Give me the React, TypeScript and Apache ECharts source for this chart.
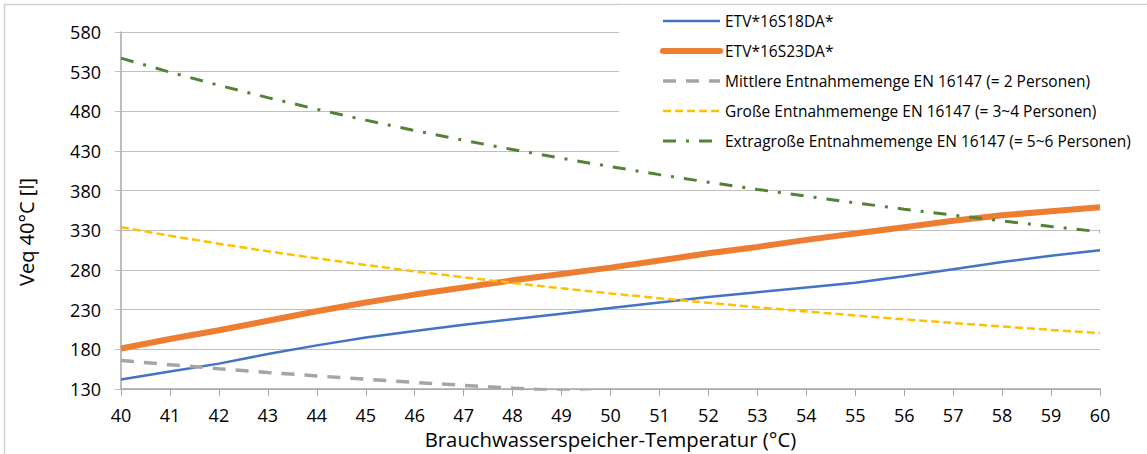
import React, { useEffect, useRef } from "react";
import * as echarts from "echarts";

const temperatures = ["40", "41", "42", "43", "44", "45", "46", "47", "48", "49", "50", "51", "52", "53", "54", "55", "56", "57", "58", "59", "60"];

const etv16S18 = [142, 152, 162, 174, 185, 195, 203, 211, 218, 225, 232, 239, 246, 252, 258, 264, 272, 281, 290, 298, 305];
const etv16S23 = [181, 193, 204, 216, 228, 239, 249, 258, 267, 275, 283, 292, 301, 309, 318, 326, 334, 342, 349, 354, 359];
const mittlere = [166, 160.6, 155.6, 150.9, 146.5, 142.3, 138.3, 134.6, 131.1, 127.7, 124.5];
const grosse = [334, 323.2, 313.1, 303.6, 294.7, 286.3, 278.3, 270.8, 263.7, 256.9, 250.5, 244.4, 238.6, 233.0, 227.7, 222.7, 217.8, 213.2, 208.8, 204.5, 200.4];
const extragrosse = [547, 529.4, 512.8, 497.3, 482.6, 468.9, 455.8, 443.5, 431.8, 420.8, 410.3, 400.2, 390.7, 381.6, 373.0, 364.7, 356.7, 349.1, 341.9, 334.9, 328.2];

const seriesNames = [
  "ETV*16S18DA*",
  "ETV*16S23DA*",
  "Mittlere Entnahmemenge EN 16147 (= 2 Personen)",
  "Große Entnahmemenge EN 16147 (= 3~4 Personen)",
  "Extragroße Entnahmemenge EN 16147 (= 5~6 Personen)",
];
const seriesColors = ["#4472C4", "#ED7D31", "#A5A5A5", "#FFC000", "#548235"];
const seriesWidths = [2.5, 6, 3.5, 2.5, 3];
const seriesDashes: any[] = ["solid", "solid", [13, 10], [8, 4], [13, 10, 3, 10]];
const seriesData = [etv16S18, etv16S23, mittlere, grosse, extragrosse];

const FONT = "'Open Sans', 'Noto Sans', sans-serif";

export default function App() {
  const ref = useRef<HTMLDivElement>(null);
  useEffect(() => {
    const chart = echarts.init(ref.current!, null, { renderer: "svg" });
    chart.setOption({
      animation: false,
      backgroundColor: "#ffffff",
      textStyle: { fontFamily: FONT },
      grid: { left: 121, right: 47, top: 32, bottom: 65 },
      graphic: [
        {
          type: "rect",
          shape: { x: 4.5, y: 4.5, width: 1200, height: 500 },
          style: { fill: "none", stroke: "#d0d0d0", lineWidth: 1.5 },
          silent: true,
          z: -10,
        },
        {
          type: "text",
          x: 26,
          y: 232,
          rotation: Math.PI / 2,
          style: {
            text: "Veq 40°C [l]",
            fontFamily: FONT,
            fontSize: 20,
            fill: "#000",
            align: "center",
            verticalAlign: "middle",
          },
        },
      ],
      legend: {
        orient: "vertical",
        left: 619,
        top: 5,
        padding: [8, 20, 10, 41],
        backgroundColor: "#ffffff",
        itemWidth: 57,
        itemHeight: 16,
        itemGap: 14,
        itemStyle: { opacity: 0 },
        textStyle: { fontFamily: FONT, fontSize: 15.5, color: "#000", lineHeight: 16 },
        data: seriesNames.map((name, i) => ({
          name,
          itemStyle: { opacity: 0 },
          lineStyle: {
            color: seriesColors[i],
            width: seriesWidths[i],
            type: seriesDashes[i],
            cap: i === 1 ? "round" : "butt",
          },
        })),
      },
      xAxis: {
        type: "category",
        data: temperatures,
        boundaryGap: false,
        name: "Brauchwasserspeicher-Temperatur (°C)",
        nameLocation: "middle",
        nameGap: 38,
        nameTextStyle: { fontFamily: FONT, fontSize: 20.3, color: "#000" },
        axisLine: { show: true, lineStyle: { color: "#a6a6a6", width: 1.5 } },
        axisTick: { show: true, alignWithLabel: true, length: 7, lineStyle: { color: "#a6a6a6" } },
        axisLabel: { fontFamily: FONT, fontSize: 18, color: "#000", margin: 17, interval: 0 },
        splitLine: { show: false },
      },
      yAxis: {
        type: "value",
        min: 130,
        max: 580,
        interval: 50,
        axisLine: { show: true, lineStyle: { color: "#a6a6a6", width: 1.5 } },
        axisTick: { show: true, length: 6, lineStyle: { color: "#bfbfbf" } },
        axisLabel: { fontFamily: FONT, fontSize: 18, color: "#000", margin: 20 },
        splitLine: { show: true, lineStyle: { color: "#bfbfbf", width: 1 } },
      },
      series: seriesNames.map((name, i) => ({
        name,
        type: "line",
        data: seriesData[i],
        symbol: "none",
        color: seriesColors[i],
        lineStyle: { color: seriesColors[i], width: seriesWidths[i], type: seriesDashes[i] },
      })),
    });
    return () => chart.dispose();
  }, []);
  return (
    <div
      ref={ref}
      style={{ position: "absolute", left: 0, top: 0, width: 1147, height: 454, background: "#fff" }}
    />
  );
}
